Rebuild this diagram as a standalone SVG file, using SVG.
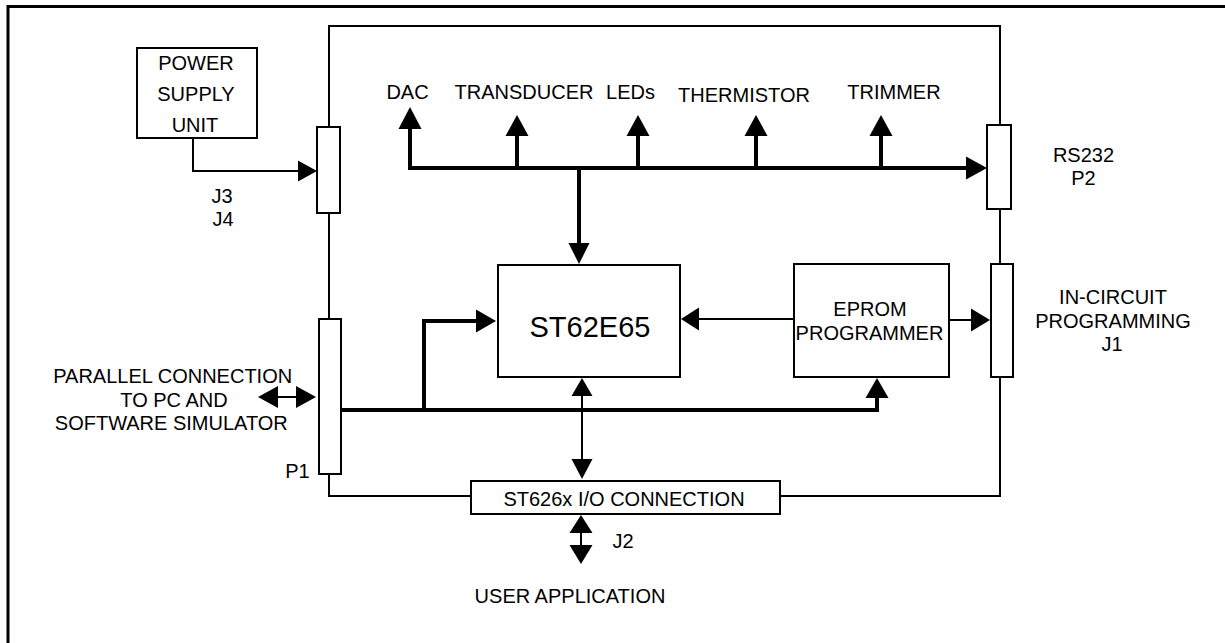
<svg xmlns="http://www.w3.org/2000/svg" width="1225" height="643" viewBox="0 0 1225 643">
<style>
.frame{fill:none;stroke:#000;stroke-width:3}
.line{fill:none;stroke:#000;stroke-width:2}
.box{fill:#fff;stroke:#000;stroke-width:2}
.thick{fill:none;stroke:#000;stroke-width:4}
.thin{fill:none;stroke:#000;stroke-width:2}
.ah{fill:#000;stroke:none}
text{font-family:"Liberation Sans",Arial,Helvetica,sans-serif;font-size:20px;text-anchor:middle;fill:#000}
.big{font-size:29px}
</style>
<rect width="1225" height="643" fill="#fff"/>
<path class="frame" d="M8,643 V6.5 H1225"/>

<g id="board">
  <path class="line" d="M329,127 V26 H1000 V125 M1000,209 V264 M1000,377 V496 H780 M471,496 H329 V474 M329,319 V213"/>
</g>

<g id="psu">
  <rect class="box" x="137" y="48" width="120" height="90"/>
  <text x="196" y="70">POWER</text>
  <text x="196" y="101">SUPPLY</text>
  <text x="195" y="131.5">UNIT</text>
</g>

<g id="j3j4">
  <rect class="box" x="317" y="127" width="23" height="86"/>
  <text x="222" y="203">J3</text>
  <text x="223" y="226">J4</text>
</g>

<g id="p1">
  <rect class="box" x="319" y="319" width="22" height="155"/>
  <text x="297.5" y="478">P1</text>
</g>

<g id="parallel-label">
  <text x="172.7" y="383">PARALLEL CONNECTION</text>
  <text x="174" y="406.5">TO PC AND</text>
  <text x="171.3" y="429.5">SOFTWARE SIMULATOR</text>
</g>

<g id="rs232">
  <rect class="box" x="987" y="125" width="24" height="84"/>
  <text x="1083.5" y="162">RS232</text>
  <text x="1083.5" y="185">P2</text>
</g>

<g id="j1">
  <rect class="box" x="991" y="264" width="22" height="113"/>
  <text x="1113" y="304">IN-CIRCUIT</text>
  <text x="1113" y="327.5">PROGRAMMING</text>
  <text x="1112" y="350.7">J1</text>
</g>

<g id="st62e65">
  <rect class="box" x="498" y="265" width="182" height="112"/>
  <text class="big" x="590" y="337">ST62E65</text>
</g>

<g id="eprom">
  <rect class="box" x="794" y="264" width="155" height="113"/>
  <text x="870" y="316">EPROM</text>
  <text x="869.5" y="340">PROGRAMMER</text>
</g>

<g id="io">
  <rect class="box" x="471" y="481" width="309" height="33"/>
  <text x="624" y="506">ST626x I/O CONNECTION</text>
  <text x="623" y="548">J2</text>
</g>

<g id="user-app">
  <text x="570" y="603">USER APPLICATION</text>
</g>

<g id="peripherals">
  <text x="407.5" y="99">DAC</text>
  <text x="524" y="99">TRANSDUCER</text>
  <text x="630.5" y="99">LEDs</text>
  <text x="744" y="101.7">THERMISTOR</text>
  <text x="894" y="99">TRIMMER</text>
</g>

<g id="connectors">
  <path class="thick" d="M410,128 V168 H968"/>
  <polygon class="ah" points="987,168 966,156.5 966,179.5"/>
  <polygon class="ah" points="410,107 398.5,129 421.5,129"/>
  <path class="thick" d="M517,168 V135 M638,168 V135 M756,168 V135 M881,168 V135"/>
  <polygon class="ah" points="517,115 505.5,136 528.5,136"/>
  <polygon class="ah" points="638,115 626.5,136 649.5,136"/>
  <polygon class="ah" points="756,115 744.5,136 767.5,136"/>
  <polygon class="ah" points="881,115 869.5,136 892.5,136"/>
  <path class="thick" d="M579,168 V244"/>
  <polygon class="ah" points="579,264 568.5,243 589.5,243"/>
  <path class="thick" d="M341,410 H877 V397"/>
  <polygon class="ah" points="877,378 865.5,398 888.5,398"/>
  <path class="thick" d="M424,410 V321 H477"/>
  <polygon class="ah" points="496,321 476,309.5 476,332.5"/>
  <path class="thin" d="M193,138 V171 H299"/>
  <polygon class="ah" points="317,171 298,160.5 298,181.5"/>
  <path class="thin" d="M794,319 H698"/>
  <polygon class="ah" points="681,319 699,307.5 699,330.5"/>
  <path class="thin" d="M949,320 H972"/>
  <polygon class="ah" points="990,320 971,308.5 971,331.5"/>
  <path class="thin" d="M582,394 V460"/>
  <polygon class="ah" points="582,378 571.5,396 592.5,396"/>
  <polygon class="ah" points="582,479 571.5,459 592.5,459"/>
  <path class="thin" d="M581,532 V546"/>
  <polygon class="ah" points="581,515 569.5,533 592.5,533"/>
  <polygon class="ah" points="581,564 569.5,545 592.5,545"/>
  <path class="thin" d="M277,397 H297"/>
  <polygon class="ah" points="258,397 278,386 278,408"/>
  <polygon class="ah" points="316,397 296,386 296,408"/>
</g>
</svg>
